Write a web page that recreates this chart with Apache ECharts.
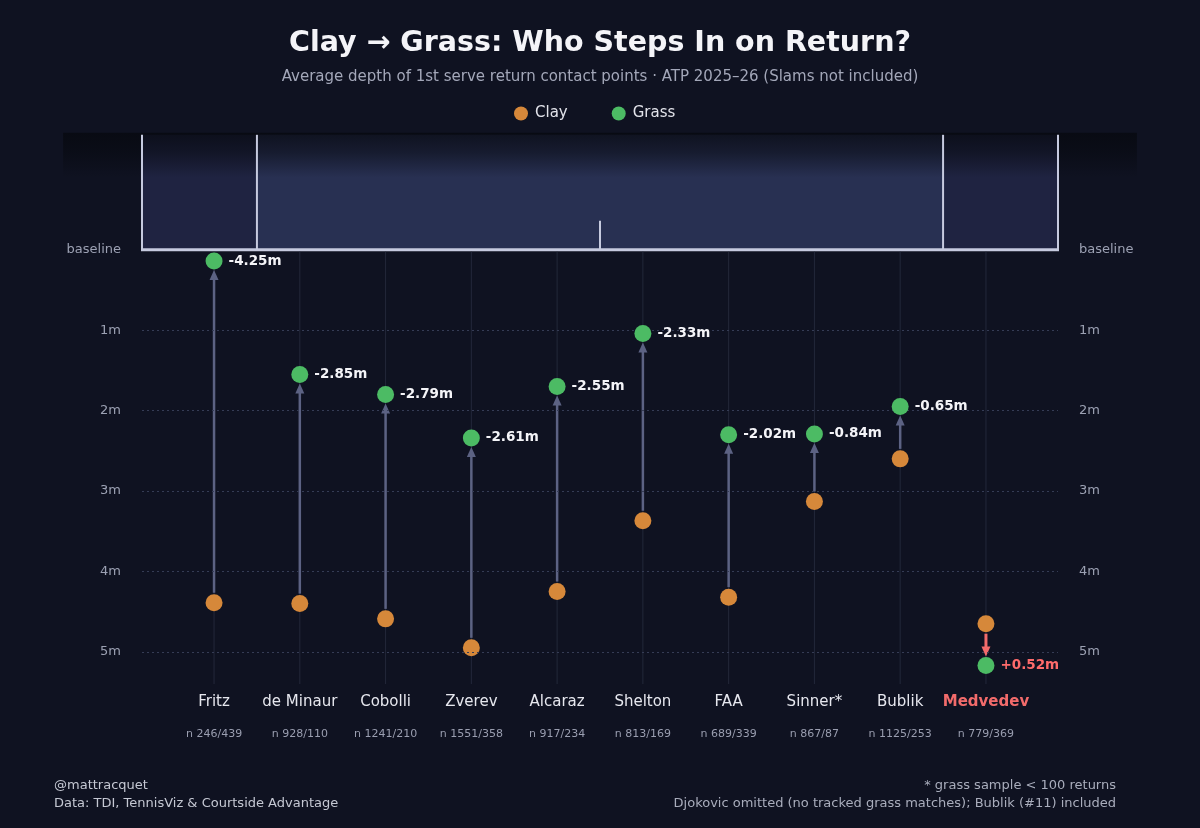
<!DOCTYPE html>
<html>
<head>
<meta charset="utf-8">
<script src="https://cdn.jsdelivr.net/npm/echarts@6/dist/echarts.min.js"></script>
<style>
html,body{margin:0;padding:0;background:#0f1221;}
#chart{width:1200px;height:828px;}
</style>
</head>
<body>
<div id="chart"></div>
<script>
// ---- data ----
const players = ['Fritz','de Minaur','Cobolli','Zverev','Alcaraz','Shelton','FAA','Sinner*','Bublik','Medvedev'];
const sampleLabels = ['n 246/439','n 928/110','n 1241/210','n 1551/358','n 917/234','n 813/169','n 689/339','n 867/87','n 1125/253','n 779/369'];
const clayDepth  = [4.39, 4.40, 4.59, 4.95, 4.25, 3.37, 4.32, 3.13, 2.60, 4.65];
const grassDepth = [0.14, 1.55, 1.80, 2.34, 1.70, 1.04, 2.30, 2.29, 1.95, 5.17];
const yTickLabels = ['baseline','1m','2m','3m','4m','5m'];
const highlight = 'Medvedev';

// ---- layout constants (not data) ----
const X_MIN = -0.84, X_MAX = 9.84;
const Y_MIN = -2, Y_MAX = 5.4;
const COURT_DEPTH = 1.43, SINGLES_L = 0.5, SINGLES_R = 8.5, CENTER_X = 4.5, CENTER_MARK = 0.36;

const CLAY = '#d6883a', GRASS = '#4cbb64', RED = '#f26b6b', ARROW = '#5c6283';

function delta(i){
  const d = Math.round((grassDepth[i] - clayDepth[i]) * 100) / 100;
  return (d > 0 ? '+' : '') + d.toFixed(2) + 'm';
}

const chart = echarts.init(document.getElementById('chart'));

function renderCourt(params, api){
  const cs = params.coordSys;
  const left = cs.x, right = cs.x + cs.width;
  const yTop = api.coord([0, -COURT_DEPTH])[1];
  const yBase = api.coord([0, 0])[1];
  const sL = api.coord([SINGLES_L, 0])[0], sR = api.coord([SINGLES_R, 0])[0];
  const cx = api.coord([CENTER_X, 0])[0];
  const cmTop = api.coord([0, -CENTER_MARK])[1];
  const fadeL = api.coord([-1.76, 0])[0], fadeR = api.coord([10.76, 0])[0];
  const fadeB = api.coord([0, -0.9])[1];
  const line = (x1,y1,x2,y2,w) => ({type:'line', shape:{x1,y1,x2,y2}, style:{stroke:'#c6cadf', lineWidth:w}});
  return {type:'group', children:[
    {type:'rect', shape:{x:left, y:yTop, width:right-left, height:yBase-yTop}, style:{fill:'#1f2341'}},
    {type:'rect', shape:{x:sL, y:yTop, width:sR-sL, height:yBase-yTop}, style:{fill:'#283052'}},
    {type:'rect', shape:{x:fadeL, y:yTop-2, width:fadeR-fadeL, height:fadeB-yTop+2},
      style:{fill:new echarts.graphic.LinearGradient(0,0,0,1,[
        {offset:0, color:'rgba(6,8,14,0.75)'},
        {offset:0.45, color:'rgba(6,8,14,0.5)'},
        {offset:1, color:'rgba(6,8,14,0)'}])}},
    line(left, yTop, left, yBase, 2),
    line(sL, yTop, sL, yBase, 2),
    line(sR, yTop, sR, yBase, 2),
    line(right, yTop, right, yBase, 2),
    line(cx, cmTop, cx, yBase, 2),
    line(left-1, yBase, right+1, yBase, 3)
  ]};
}

function renderCategory(params, api){
  const i = api.value(0);
  const top = api.coord([i, 0]);
  const bot = api.coord([i, Y_MAX]);
  const isHi = players[i] === highlight;
  return {type:'group', children:[
    {type:'line', shape:{x1:top[0], y1:top[1]+2, x2:bot[0], y2:bot[1]}, style:{stroke:'#23283a', lineWidth:1}},
    {type:'text', x:bot[0], y:bot[1]+18, style:{text:players[i], fill:isHi?RED:'#e6e7ee', font:(isHi?'bold ':'')+'15px "DejaVu Sans"', align:'center', verticalAlign:'middle'}},
    {type:'text', x:bot[0], y:bot[1]+50, style:{text:sampleLabels[i], fill:'#9a9eb0', font:'11px "DejaVu Sans"', align:'center', verticalAlign:'middle'}}
  ]};
}

function renderArrow(params, api){
  const i = api.value(0);
  const p1 = api.coord([i, clayDepth[i]]);
  const p2 = api.coord([i, grassDepth[i]]);
  const dir = p2[1] > p1[1] ? 1 : -1;
  const x = p1[0];
  const start = p1[1] + dir * 10;
  const tip = p2[1] - dir * 9;
  const headLen = 10, headW = 4.5;
  const isHi = players[i] === highlight;
  const col = isHi ? RED : ARROW;
  return {type:'group', children:[
    {type:'line', shape:{x1:x, y1:start, x2:x, y2:tip - dir*headLen*0.7}, style:{stroke:col, lineWidth:isHi?3:2.5}},
    {type:'polygon', shape:{points:[[x-headW, tip-dir*headLen],[x+headW, tip-dir*headLen],[x, tip]]}, style:{fill:col}}
  ]};
}

const catData = players.map((p,i) => [i]);

const option = {
  backgroundColor: '#0f1221',
  animation: false,
  textStyle: {fontFamily: '"DejaVu Sans", sans-serif'},
  title: {
    text: 'Clay → Grass: Who Steps In on Return?',
    subtext: 'Average depth of 1st serve return contact points · ATP 2025–26 (Slams not included)',
    left: 'center', top: 24, itemGap: 12,
    textStyle: {color:'#f4f4f8', fontSize:28.5, fontWeight:'bold', fontFamily:'"DejaVu Sans"'},
    subtextStyle: {color:'#a3a7b9', fontSize:15, fontFamily:'"DejaVu Sans"'}
  },
  legend: {
    top: 101, left: 509, itemGap: 44, itemWidth: 14, itemHeight: 14,
    textStyle: {color:'#e2e3ea', fontSize:15, fontFamily:'"DejaVu Sans"', padding:[0,0,0,2]},
    data: [{name:'Clay', icon:'circle'}, {name:'Grass', icon:'circle'}]
  },
  grid: {left:142, right:142, top:89, bottom:144},
  xAxis: {type:'value', min:X_MIN, max:X_MAX, show:false},
  yAxis: [0,1].map(k => ({
    type:'value', inverse:true, min:Y_MIN, max:Y_MAX, interval:1,
    position: k===0 ? 'left' : 'right',
    axisLine:{show:false}, axisTick:{show:false}, splitLine:{show:false},
    axisLabel:{
      color:'#9ca1b3', fontSize:13, margin:21,
      formatter: v => (Number.isInteger(v) && v >= 0 && v < yTickLabels.length) ? yTickLabels[v] : ''
    }
  })),
  graphic: [
    {type:'text', left:54, top:779, style:{text:'@mattracquet', fill:'#c5c8d3', font:'13px "DejaVu Sans"'}},
    {type:'text', left:54, top:797, style:{text:'Data: TDI, TennisViz & Courtside Advantage', fill:'#c5c8d3', font:'13px "DejaVu Sans"'}},
    {type:'text', right:84, top:779, style:{text:'* grass sample < 100 returns', fill:'#a9adbc', font:'13px "DejaVu Sans"', align:'right'}},
    {type:'text', right:84, top:797, style:{text:'Djokovic omitted (no tracked grass matches); Bublik (#11) included', fill:'#a9adbc', font:'13px "DejaVu Sans"', align:'right'}}
  ],
  series: [
    {type:'custom', name:'court', renderItem:renderCourt, data:[[0]], silent:true, z:1,
      markLine:{silent:true, symbol:'none', label:{show:false},
        lineStyle:{color:'#353c55', type:[2,3], width:1, opacity:1},
        data:[1,2,3,4,5].map(v => ({yAxis:v}))}},
    {type:'custom', name:'categories', renderItem:renderCategory, data:catData, silent:true, z:2},
    {type:'custom', name:'arrows', renderItem:renderArrow, data:catData, silent:true, z:3},
    {type:'scatter', name:'Clay', symbolSize:17, z:4,
      itemStyle:{color:CLAY, opacity:1},
      data: clayDepth.map((v,i) => [i, v])},
    {type:'scatter', name:'Grass', symbolSize:17, z:5,
      itemStyle:{color:GRASS, opacity:1},
      label:{show:true, position:'right', distance:6, color:'#f4f4f8', fontWeight:'bold', fontSize:13.5,
        formatter: p => delta(p.dataIndex)},
      data: grassDepth.map((v,i) => players[i] === highlight
        ? {value:[i, v], label:{color:'#ff6b6b', fontSize:13.5}}
        : [i, v])}
  ]
};
chart.setOption(option);
</script>
</body>
</html>
